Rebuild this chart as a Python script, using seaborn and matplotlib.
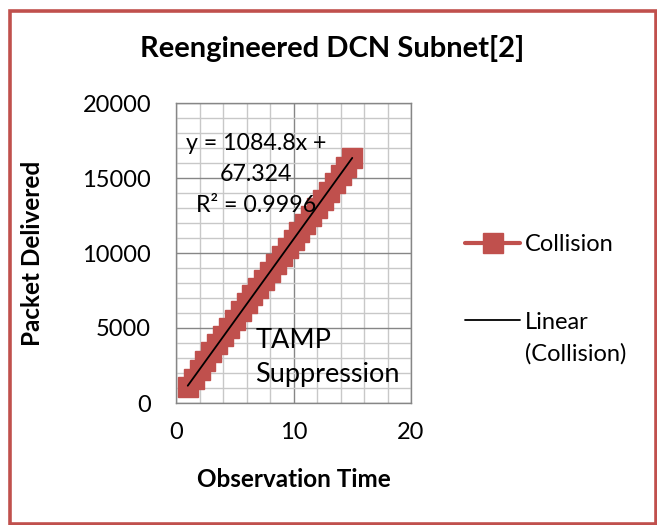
import numpy as np
import pandas as pd
import matplotlib
matplotlib.use("Agg")
import matplotlib.pyplot as plt
from matplotlib.patches import Rectangle
from matplotlib.ticker import MultipleLocator
import seaborn as sns

# Observation times and delivered packet counts
observation_time = [1.0, 1.5, 2.0, 2.5, 3.0, 3.5, 4.0, 4.5, 5.0, 5.5,
                    6.0, 6.5, 7.0, 7.5, 8.0, 8.5, 9.0, 9.5, 10.0, 10.5,
                    11.0, 11.5, 12.0, 12.5, 13.0, 13.5, 14.0, 14.5, 15.0]
packets_delivered = [1050, 1620, 2180, 2790, 3410, 3950, 4480, 5010, 5560, 6120,
                     6650, 7170, 7700, 8230, 8760, 9300, 9820, 10340, 10870, 11390,
                     11920, 12450, 12990, 13540, 14090, 14640, 15200, 15760, 16330]

# Linear trendline coefficients
trend_slope = 1084.8
trend_intercept = 67.324
trend_r2 = 0.9996

title = "Reengineered DCN Subnet[2]"
x_label = "Observation Time"
y_label = "Packet Delivered"
series_name = "Collision"
trend_name = "Linear\n(Collision)"
note_text = "TAMP\nSuppression"

RED = "#C0504D"
MAJOR_GRID = "#868686"
MINOR_GRID = "#C8C8C8"
W, H = 657, 525

sns.set_style("white")
plt.rcParams["font.family"] = ["Lato", "DejaVu Sans"]
plt.rcParams["text.color"] = "black"
plt.rcParams["axes.labelcolor"] = "black"

fig = plt.figure(figsize=(W / 100, H / 100), dpi=100)
ax = fig.add_axes([176 / W, 1 - 403 / H, 235 / W, 300 / H])

df = pd.DataFrame({"x": observation_time, "y": packets_delivered})
sns.lineplot(data=df, x="x", y="y", ax=ax, estimator=None, sort=False,
             color=RED, linewidth=3, marker="s", markersize=14,
             markeredgecolor=RED, markeredgewidth=1, label=series_name,
             zorder=3)

tx = [observation_time[0], observation_time[-1]]
trend_df = pd.DataFrame({"x": tx,
                         "y": [trend_slope * v + trend_intercept for v in tx]})
sns.lineplot(data=trend_df, x="x", y="y", ax=ax, estimator=None,
             color="black", linewidth=1.3, label=trend_name, zorder=4)

ax.set_xlim(0, 20)
ax.set_ylim(0, 20000)
ax.xaxis.set_major_locator(MultipleLocator(10))
ax.xaxis.set_minor_locator(MultipleLocator(2))
ax.yaxis.set_major_locator(MultipleLocator(5000))
ax.yaxis.set_minor_locator(MultipleLocator(1000))

ax.grid(which="minor", color=MINOR_GRID, linewidth=1.0, zorder=0)
ax.grid(which="major", color=MAJOR_GRID, linewidth=1.0, zorder=0)
ax.set_axisbelow(True)

for side in ["left", "bottom", "top", "right"]:
    ax.spines[side].set_color(MAJOR_GRID)
    ax.spines[side].set_linewidth(1.0)

ax.tick_params(which="major", direction="out", length=5, width=1,
               color=MAJOR_GRID, labelsize=17, labelcolor="black")
ax.tick_params(axis="x", which="major", pad=9)
ax.tick_params(axis="y", which="major", pad=13)
ax.tick_params(which="minor", length=0)

ax.set_xlabel(x_label, fontsize=17.5, fontweight="bold", color="black")
ax.set_ylabel(y_label, fontsize=17.5, fontweight="bold", color="black")
ax.xaxis.set_label_coords(0.5, -0.217)
ax.yaxis.set_label_coords(-0.56, 0.5)

eq_text = f"y = {trend_slope}x +\n{trend_intercept}\nR² = {trend_r2}"
ax.text(6.8, 15250, eq_text, ha="center", va="center", fontsize=16.7,
        linespacing=1.6, color="black", zorder=5)
ax.text(6.75, 3040, note_text, ha="left", va="center", fontsize=19.5,
        linespacing=1.48, color="black", zorder=5)

leg = ax.legend(loc="upper left", bbox_to_anchor=(465 / W, 1 - 234 / H),
                bbox_transform=fig.transFigure, borderpad=0, borderaxespad=0,
                frameon=False, fontsize=17, handlelength=2.33,
                handletextpad=0.2, labelspacing=2.4, numpoints=1)
for t in leg.get_texts():
    t.set_color("black")
leg.get_texts()[1].set_linespacing(1.59)
# keep the trendline key level with the first line of its two-line label
trend_key = leg.legend_handles[1]
trend_key.set_ydata(np.asarray(trend_key.get_ydata()) + 13.5)

fig.text(332 / W, 1 - 48 / H, title, ha="center", va="center",
         fontsize=21, fontweight="bold", color="black")

fig.patches.append(Rectangle((9.5 / W, 1 - 523.5 / H),
                             646 / W, 512.5 / H,
                             transform=fig.transFigure, fill=False,
                             edgecolor=RED, linewidth=2.6))

fig.savefig("out.png", dpi=100)
